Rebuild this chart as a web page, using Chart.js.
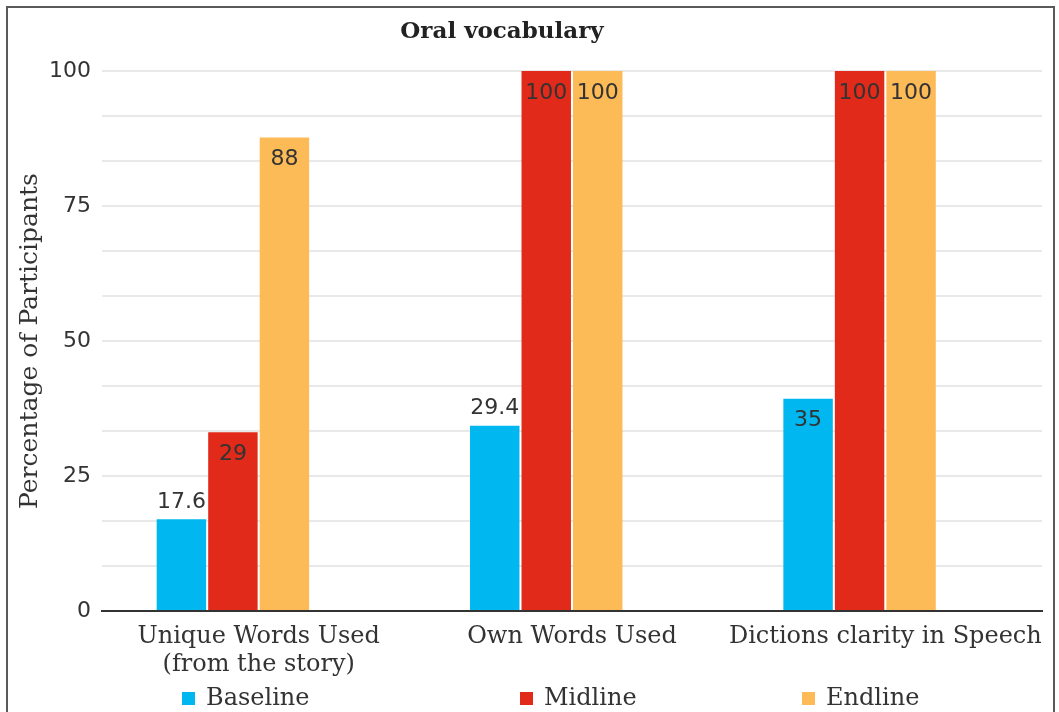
<!DOCTYPE html>
<html>
<head>
<meta charset="utf-8">
<title>Oral vocabulary</title>
<script src="https://cdn.jsdelivr.net/npm/chart.js@4.4.0/dist/chart.umd.min.js"></script>
<style>
  html, body { margin: 0; padding: 0; background: #fff; }
  #wrap { position: relative; width: 1059px; height: 712px; overflow: hidden; }
  #frame { position: absolute; left: 6px; top: 6px; width: 1045px; height: 760px; border: 2px solid #5a5a5a; }
  #chart { position: absolute; left: 0; top: 0; }
  #title { position: absolute; top: 16px; left: 0; width: 1004px; text-align: center;
           font: bold 23px "DejaVu Serif"; color: #222; }
  .legend-item { position: absolute; top: 683px; display: flex; align-items: center;
                 font: 24px "DejaVu Serif"; color: #333; }
  .legend-item .box { width: 13px; height: 13px; margin-right: 11px; margin-top: 2px; }
  #leg0 { left: 182px; }
  #leg1 { left: 520px; }
  #leg2 { left: 802px; }
</style>
</head>
<body>
<div id="wrap">
  <div id="frame"></div>
  <canvas id="chart" width="1059" height="712"></canvas>
  <div id="title">Oral vocabulary</div>
  <div id="legend"></div>
</div>
<script>
// categories on the x axis
const categories = [['Unique Words Used', '(from the story)'], 'Own Words Used', 'Dictions clarity in Speech'];
const seriesNames = ['Baseline', 'Midline', 'Endline'];
const seriesColors = ['#00B7EF', '#E12A19', '#FDBB57'];

// bar heights as drawn in the figure
const baselineValues = [17.0, 34.3, 39.3];
const midlineValues = [33.1, 100, 100];
const endlineValues = [87.7, 100, 100];

// value labels printed on the bars
const baselineLabels = ['17.6', '29.4', '35'];
const midlineLabels = ['29', '100', '100'];
const endlineLabels = ['88', '100', '100'];

// y axis: labelled ticks, with gridlines every twelfth of the range
const yTickLabels = [0, 25, 50, 75, 100];
const yGridCount = 12;

// Draw the value labels: inside the bar top if they fit, above it otherwise
const valueLabels = {
    id: 'valueLabels',
    afterDatasetsDraw(chart) {
        const ctx = chart.ctx;
        ctx.save();
        ctx.font = '22px "DejaVu Sans"';
        ctx.fillStyle = '#333';
        ctx.textAlign = 'center';
        ctx.textBaseline = 'middle';
        chart.data.datasets.forEach((ds, di) => {
            if (!ds.valueText) return;
            chart.getDatasetMeta(di).data.forEach((bar, i) => {
                const text = ds.valueText[i];
                const w = ctx.measureText(text).width;
                const y = w > bar.width - 5 ? bar.y - 17 : bar.y + 22;
                ctx.fillText(text, bar.x, y);
            });
        });
        ctx.restore();
    }
};

const valueSets = [baselineValues, midlineValues, endlineValues];
const labelSets = [baselineLabels, midlineLabels, endlineLabels];

const datasets = seriesNames.map((name, i) => ({
    label: name,
    data: valueSets[i],
    valueText: labelSets[i],
    backgroundColor: seriesColors[i],
    borderWidth: 0
}));
// empty fourth slot, the original leaves room for it in each group
datasets.push({ label: '', data: categories.map(() => null), backgroundColor: 'rgba(0,0,0,0)' });

new Chart(document.getElementById('chart').getContext('2d'), {
    type: 'bar',
    data: { labels: categories, datasets: datasets },
    plugins: [valueLabels],
    options: {
        responsive: false,
        animation: false,
        categoryPercentage: 0.6575,
        barPercentage: 0.96,
        layout: { padding: { top: 71, right: 17, bottom: 0, left: 0 } },
        plugins: {
            legend: { display: false },
            title: { display: false },
            tooltip: { enabled: false }
        },
        scales: {
            x: {
                grid: { display: false },
                border: { color: '#333', width: 2 },
                ticks: {
                    font: { family: 'DejaVu Serif', size: 24, lineHeight: 1.17 },
                    color: '#333',
                    padding: 4,
                    maxRotation: 0,
                    autoSkip: false
                },
                afterFit: scale => { scale.height = 101; }
            },
            y: {
                min: 0,
                max: 100,
                afterBuildTicks: scale => {
                    scale.ticks = [];
                    for (let i = 0; i <= yGridCount; i++) {
                        scale.ticks.push({ value: i * 100 / yGridCount });
                    }
                },
                afterFit: scale => { scale.width = 102; },
                grid: { color: '#e9e9e9', lineWidth: 2, drawTicks: false },
                border: { display: false },
                ticks: {
                    font: { family: 'DejaVu Sans', size: 22 },
                    color: '#333',
                    padding: 11,
                    callback: v => {
                        const t = yTickLabels.find(l => Math.abs(l - v) < 0.01);
                        return t === undefined ? '' : String(t);
                    }
                },
                title: {
                    display: true,
                    text: 'Percentage of Participants',
                    font: { family: 'DejaVu Serif', size: 25 },
                    color: '#333',
                    padding: { top: 15, bottom: 0 }
                }
            }
        }
    }
});

// legend below the axis
const legend = document.getElementById('legend');
seriesNames.forEach((name, i) => {
    const item = document.createElement('div');
    item.className = 'legend-item';
    item.id = 'leg' + i;
    item.innerHTML = '<span class="box" style="background:' + seriesColors[i] + '"></span>' + name;
    legend.appendChild(item);
});
</script>
</body>
</html>
